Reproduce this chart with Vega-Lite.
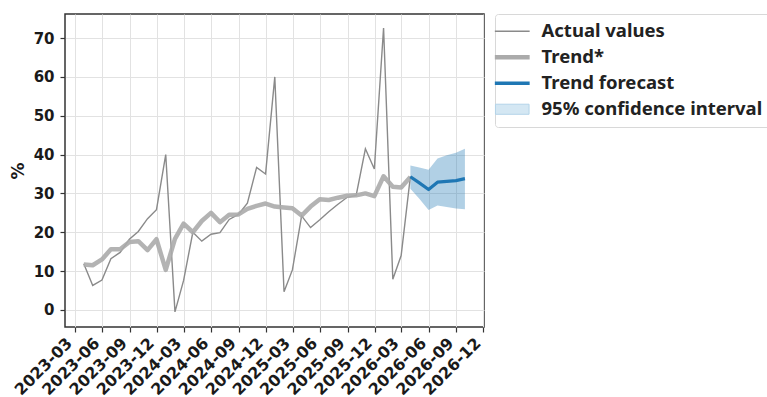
{
  "$schema": "https://vega.github.io/schema/vega-lite/v6.json",
  "width": 419,
  "height": 313,
  "autosize": {"type": "none"},
  "padding": {"left": 65, "top": 14, "right": 283, "bottom": 70},
  "background": "white",
  "config": {
    "view": {"stroke": "#333333", "strokeWidth": 1.5},
    "axis": {
      "grid": true,
      "gridColor": "#e2e2e2",
      "gridWidth": 1,
      "domain": false,
      "ticks": true,
      "tickColor": "#333333",
      "tickSize": 5,
      "tickWidth": 1.2,
      "labelFont": "DejaVu Sans",
      "labelFontWeight": "bold",
      "labelColor": "#1a1a1a",
      "titleFont": "DejaVu Sans",
      "titleFontWeight": "bold",
      "titleColor": "#1a1a1a"
    }
  },
  "datasets": {
    "actual": [
      {"date": "2023-03-31", "value": 11.9, "series": "Actual values"},
      {"date": "2023-04-30", "value": 6.3, "series": "Actual values"},
      {"date": "2023-05-31", "value": 7.7, "series": "Actual values"},
      {"date": "2023-06-30", "value": 13.2, "series": "Actual values"},
      {"date": "2023-07-31", "value": 14.8, "series": "Actual values"},
      {"date": "2023-08-31", "value": 18.2, "series": "Actual values"},
      {"date": "2023-09-30", "value": 20.2, "series": "Actual values"},
      {"date": "2023-10-31", "value": 23.5, "series": "Actual values"},
      {"date": "2023-11-30", "value": 25.8, "series": "Actual values"},
      {"date": "2023-12-31", "value": 40.0, "series": "Actual values"},
      {"date": "2024-01-31", "value": -0.5, "series": "Actual values"},
      {"date": "2024-02-29", "value": 7.6, "series": "Actual values"},
      {"date": "2024-03-31", "value": 20.0, "series": "Actual values"},
      {"date": "2024-04-30", "value": 17.7, "series": "Actual values"},
      {"date": "2024-05-31", "value": 19.5, "series": "Actual values"},
      {"date": "2024-06-30", "value": 19.9, "series": "Actual values"},
      {"date": "2024-07-31", "value": 23.3, "series": "Actual values"},
      {"date": "2024-08-31", "value": 24.6, "series": "Actual values"},
      {"date": "2024-09-30", "value": 27.5, "series": "Actual values"},
      {"date": "2024-10-31", "value": 36.7, "series": "Actual values"},
      {"date": "2024-11-30", "value": 35.0, "series": "Actual values"},
      {"date": "2024-12-31", "value": 60.0, "series": "Actual values"},
      {"date": "2025-01-31", "value": 4.7, "series": "Actual values"},
      {"date": "2025-02-28", "value": 10.3, "series": "Actual values"},
      {"date": "2025-03-31", "value": 24.2, "series": "Actual values"},
      {"date": "2025-04-30", "value": 21.2, "series": "Actual values"},
      {"date": "2025-05-31", "value": 23.2, "series": "Actual values"},
      {"date": "2025-06-30", "value": 25.3, "series": "Actual values"},
      {"date": "2025-07-31", "value": 27.2, "series": "Actual values"},
      {"date": "2025-08-31", "value": 29.0, "series": "Actual values"},
      {"date": "2025-09-30", "value": 29.5, "series": "Actual values"},
      {"date": "2025-10-31", "value": 41.5, "series": "Actual values"},
      {"date": "2025-11-30", "value": 36.3, "series": "Actual values"},
      {"date": "2025-12-31", "value": 72.6, "series": "Actual values"},
      {"date": "2026-01-31", "value": 7.9, "series": "Actual values"},
      {"date": "2026-02-28", "value": 14.0, "series": "Actual values"},
      {"date": "2026-03-31", "value": 34.4, "series": "Actual values"}
    ],
    "trend": [
      {"date": "2023-03-31", "value": 11.7, "series": "Trend*"},
      {"date": "2023-04-30", "value": 11.5, "series": "Trend*"},
      {"date": "2023-05-31", "value": 13.0, "series": "Trend*"},
      {"date": "2023-06-30", "value": 15.6, "series": "Trend*"},
      {"date": "2023-07-31", "value": 15.6, "series": "Trend*"},
      {"date": "2023-08-31", "value": 17.5, "series": "Trend*"},
      {"date": "2023-09-30", "value": 17.7, "series": "Trend*"},
      {"date": "2023-10-31", "value": 15.4, "series": "Trend*"},
      {"date": "2023-11-30", "value": 18.2, "series": "Trend*"},
      {"date": "2023-12-31", "value": 10.3, "series": "Trend*"},
      {"date": "2024-01-31", "value": 18.3, "series": "Trend*"},
      {"date": "2024-02-29", "value": 22.2, "series": "Trend*"},
      {"date": "2024-03-31", "value": 20.0, "series": "Trend*"},
      {"date": "2024-04-30", "value": 22.9, "series": "Trend*"},
      {"date": "2024-05-31", "value": 25.0, "series": "Trend*"},
      {"date": "2024-06-30", "value": 22.6, "series": "Trend*"},
      {"date": "2024-07-31", "value": 24.5, "series": "Trend*"},
      {"date": "2024-08-31", "value": 24.6, "series": "Trend*"},
      {"date": "2024-09-30", "value": 26.0, "series": "Trend*"},
      {"date": "2024-10-31", "value": 26.8, "series": "Trend*"},
      {"date": "2024-11-30", "value": 27.4, "series": "Trend*"},
      {"date": "2024-12-31", "value": 26.6, "series": "Trend*"},
      {"date": "2025-01-31", "value": 26.4, "series": "Trend*"},
      {"date": "2025-02-28", "value": 26.2, "series": "Trend*"},
      {"date": "2025-03-31", "value": 24.3, "series": "Trend*"},
      {"date": "2025-04-30", "value": 26.6, "series": "Trend*"},
      {"date": "2025-05-31", "value": 28.5, "series": "Trend*"},
      {"date": "2025-06-30", "value": 28.3, "series": "Trend*"},
      {"date": "2025-07-31", "value": 28.9, "series": "Trend*"},
      {"date": "2025-08-31", "value": 29.4, "series": "Trend*"},
      {"date": "2025-09-30", "value": 29.5, "series": "Trend*"},
      {"date": "2025-10-31", "value": 30.0, "series": "Trend*"},
      {"date": "2025-11-30", "value": 29.3, "series": "Trend*"},
      {"date": "2025-12-31", "value": 34.4, "series": "Trend*"},
      {"date": "2026-01-31", "value": 31.7, "series": "Trend*"},
      {"date": "2026-02-28", "value": 31.5, "series": "Trend*"},
      {"date": "2026-03-31", "value": 34.2, "series": "Trend*"}
    ],
    "forecast": [
      {"date": "2026-03-31", "value": 34.3, "series": "Trend forecast"},
      {"date": "2026-04-30", "value": 32.7, "series": "Trend forecast"},
      {"date": "2026-05-31", "value": 31.0, "series": "Trend forecast"},
      {"date": "2026-06-30", "value": 32.9, "series": "Trend forecast"},
      {"date": "2026-07-31", "value": 33.1, "series": "Trend forecast"},
      {"date": "2026-08-31", "value": 33.3, "series": "Trend forecast"},
      {"date": "2026-09-30", "value": 33.8, "series": "Trend forecast"}
    ],
    "ci": [
      {"date": "2026-03-31", "lo": 31.2, "hi": 37.2, "series": "95% confidence interval"},
      {"date": "2026-04-30", "lo": 28.6, "hi": 36.7, "series": "95% confidence interval"},
      {"date": "2026-05-31", "lo": 25.7, "hi": 36.1, "series": "95% confidence interval"},
      {"date": "2026-06-30", "lo": 26.9, "hi": 39.0, "series": "95% confidence interval"},
      {"date": "2026-07-31", "lo": 26.5, "hi": 39.8, "series": "95% confidence interval"},
      {"date": "2026-08-31", "lo": 26.1, "hi": 40.5, "series": "95% confidence interval"},
      {"date": "2026-09-30", "lo": 25.9, "hi": 41.5, "series": "95% confidence interval"}
    ]
  },
  "encoding": {
    "x": {
      "field": "date",
      "type": "temporal",
      "title": null,
      "scale": {
        "type": "utc",
        "domain": [
          {"year": 2023, "month": 1, "date": 27, "utc": true},
          {"year": 2026, "month": 12, "date": 3, "utc": true}
        ]
      },
      "axis": {
        "values": [
          {"year": 2023, "month": 3, "date": 1, "utc": true},
          {"year": 2023, "month": 6, "date": 1, "utc": true},
          {"year": 2023, "month": 9, "date": 1, "utc": true},
          {"year": 2023, "month": 12, "date": 1, "utc": true},
          {"year": 2024, "month": 3, "date": 1, "utc": true},
          {"year": 2024, "month": 6, "date": 1, "utc": true},
          {"year": 2024, "month": 9, "date": 1, "utc": true},
          {"year": 2024, "month": 12, "date": 1, "utc": true},
          {"year": 2025, "month": 3, "date": 1, "utc": true},
          {"year": 2025, "month": 6, "date": 1, "utc": true},
          {"year": 2025, "month": 9, "date": 1, "utc": true},
          {"year": 2025, "month": 12, "date": 1, "utc": true},
          {"year": 2026, "month": 3, "date": 1, "utc": true},
          {"year": 2026, "month": 6, "date": 1, "utc": true},
          {"year": 2026, "month": 9, "date": 1, "utc": true},
          {"year": 2026, "month": 12, "date": 1, "utc": true}
        ],
        "labelExpr": "utcFormat(datum.value, '%Y-%m')",
        "labelAngle": -45,
        "labelAlign": "right",
        "labelBaseline": "bottom",
        "labelPadding": 14,
        "labelFontSize": 16,
        "labelOverlap": false,
        "labelFlush": false,
        "labelBound": false
      }
    }
  },
  "layer": [
    {
      "data": {"name": "ci"},
      "mark": {"type": "area", "opacity": 0.35, "color": "#1f77b4", "line": false},
      "encoding": {
        "y": {
          "field": "lo",
          "type": "quantitative",
          "title": "%",
          "scale": {"domain": [-4.4, 76.2], "nice": false, "zero": false},
          "axis": {
            "values": [0, 10, 20, 30, 40, 50, 60, 70],
            "labelFontSize": 15,
            "labelPadding": 6,
            "titleFontSize": 17,
            "titlePadding": 6
          }
        },
        "y2": {"field": "hi"}
      }
    },
    {
      "data": {"name": "actual"},
      "mark": {"type": "line", "strokeWidth": 1.4},
      "encoding": {
        "y": {"field": "value", "type": "quantitative"},
        "color": {
          "field": "series",
          "type": "nominal",
          "scale": {
            "domain": ["Actual values", "Trend*", "Trend forecast", "95% confidence interval"],
            "range": ["#8a8a8a", "#ababab", "#1f77b4", "#b3d3e8"]
          },
          "legend": {
            "title": null,
            "orient": "none",
            "legendX": 430,
            "legendY": 0,
            "symbolType": "stroke",
            "symbolSize": 576,
            "symbolOpacity": 1,
            "labelFont": "Noto Sans",
            "labelFontSize": 18.5,
            "labelFontWeight": "bold",
            "labelColor": "#222222",
            "labelLimit": 400,
            "labelOffset": 20,
            "rowPadding": 7,
            "padding": 8,
            "strokeColor": "#d8d8d8",
            "cornerRadius": 3,
            "fillColor": "white",
            "encode": {
              "symbols": {
                "update": {
                  "shape": {"signal": "datum.value === '95% confidence interval' ? 'M-1.4,-0.42L1.4,-0.42L1.4,0.42L-1.4,0.42Z' : 'M-1.45,0L1.45,0'"},
                  "strokeWidth": {"signal": "datum.value === 'Actual values' ? 1.3 : datum.value === 'Trend*' ? 4.5 : datum.value === 'Trend forecast' ? 3.5 : 1"},
                  "stroke": {"signal": "datum.value === 'Actual values' ? '#9a9a9a' : datum.value === 'Trend*' ? '#c4c4c4' : datum.value === 'Trend forecast' ? '#1f77b4' : '#b3d3e8'"},
                  "fill": {"signal": "datum.value === '95% confidence interval' ? '#d4e7f3' : 'transparent'"},
                  "opacity": {"value": 1},
                  "fillOpacity": {"value": 1},
                  "strokeOpacity": {"value": 1}
                }
              }
            }
          }
        }
      }
    },
    {
      "data": {"name": "trend"},
      "mark": {"type": "line", "strokeWidth": 4.5, "opacity": 0.9, "strokeJoin": "round"},
      "encoding": {
        "y": {"field": "value", "type": "quantitative"},
        "color": {"field": "series", "type": "nominal"}
      }
    },
    {
      "data": {"name": "forecast"},
      "mark": {"type": "line", "strokeWidth": 3.2, "strokeJoin": "round"},
      "encoding": {
        "y": {"field": "value", "type": "quantitative"},
        "color": {"field": "series", "type": "nominal"}
      }
    }
  ]
}
